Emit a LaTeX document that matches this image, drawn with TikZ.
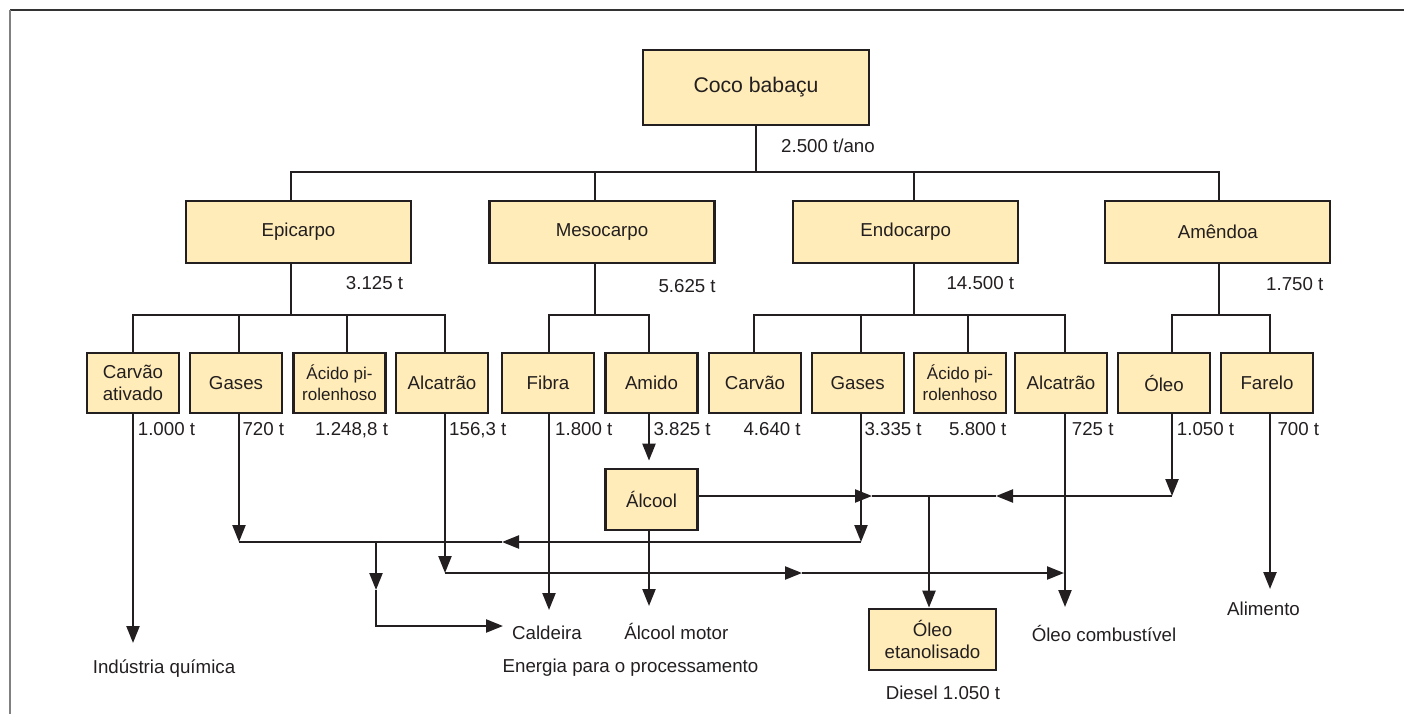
\documentclass[tikz,border=0pt]{standalone}
\usepackage{fontspec}
\setmainfont{Liberation Sans}
\usetikzlibrary{arrows.meta}
\definecolor{inkc}{HTML}{231F20}
\definecolor{boxfill}{HTML}{FFECB8}
\newcommand\FontMain{\fontsize{18.7}{22.6}\selectfont}
\newcommand\FontTitle{\fontsize{21.2}{25}\selectfont}
\newcommand\FontSmall{\fontsize{17}{21}\selectfont}
\begin{document}
\begin{tikzpicture}[x=1pt,y=-1pt,
  box/.style={draw=inkc, fill=boxfill, line width=2.3pt, inner sep=0pt, align=center, text=inkc, font=\FontMain, minimum width=92pt, minimum height=60pt},
  bigbox/.style={box, minimum width=225pt, minimum height=62pt},
  lbl/.style={inner sep=0pt, text=inkc, font=\FontMain, anchor=base},
  lblw/.style={lbl, anchor=base west},
  flow/.style={draw=inkc, line width=2.3pt},
  arr/.style={flow, -{Triangle[length=17pt,width=13pt]}}]
\useasboundingbox (0,0) rectangle (1404,714);
% frame
\draw[draw=black!80, line width=1.3pt] (10,10) -- (1404,10);
\draw[draw=black!50, line width=2pt] (10,10) -- (10,714);

% boxes
\node[box, minimum width=226pt, minimum height=75pt, font=\FontTitle] (coco) at (756,87.5) {Coco babaçu};
\node[bigbox] (epi) at (298.5,232) {Epicarpo};
\node[bigbox] (meso) at (602,232) {Mesocarpo};
\node[bigbox] (endo) at (905.7,232) {Endocarpo};
\node[bigbox] (amen) at (1217.8,232) {Amêndoa};

\node[box] (ca) at (133,383) {Carvão\\ativado};
\node[box] (gasA) at (236,383) {Gases};
\node[box, font=\FontSmall] (aciA) at (339.5,383) {Ácido pi-\\rolenhoso};
\node[box] (alcA) at (442,383) {Alcatrão};
\node[box] (fib) at (548,383) {Fibra};
\node[box] (ami) at (651.5,383) {Amido};
\node[box] (car) at (755,383) {Carvão};
\node[box] (gasB) at (857.7,383) {Gases};
\node[box, font=\FontSmall] (aciB) at (960,383) {Ácido pi-\\rolenhoso};
\node[box] (alcB) at (1061,383) {Alcatrão};
\node[box] (oleo) at (1164,383) {Óleo};
\node[box] (far) at (1267,383) {Farelo};

\node[box, minimum height=61pt] (alcool) at (651.5,499.3) {Álcool};
\node[box, minimum width=127pt, minimum height=61pt] (oet) at (932.5,639.3) {Óleo\\etanolisado};

% column coordinates
\coordinate (Xepi) at (291,0);
\coordinate (Xmeso) at (595,0);
\coordinate (Xendo) at (914,0);
\coordinate (Xamen) at (1219,0);
\coordinate (Xca) at (133,0);
\coordinate (XgasA) at (239,0);
\coordinate (XaciA) at (347,0);
\coordinate (XalcA) at (445,0);
\coordinate (Xfib) at (549,0);
\coordinate (Xami) at (649,0);
\coordinate (Xcar) at (754,0);
\coordinate (XgasB) at (861,0);
\coordinate (XaciB) at (968,0);
\coordinate (XalcB) at (1065,0);
\coordinate (Xole) at (1172,0);
\coordinate (Xfar) at (1270,0);
\coordinate (b1) at (756,172);
\coordinate (b2) at (0,315);

% tree
\draw[flow] (coco.south) -- (coco.south |- b1);
\draw[flow] (epi.north -| Xepi) |- (b1 -| Xamen) -- (amen.north -| Xamen);
\draw[flow] (meso.north -| Xmeso) -- (b1 -| Xmeso);
\draw[flow] (endo.north -| Xendo) -- (b1 -| Xendo);

\draw[flow] (epi.south -| Xepi) -- (b2 -| Xepi);
\draw[flow] (ca.north -| Xca) |- (b2 -| XalcA) -- (alcA.north -| XalcA);
\draw[flow] (gasA.north -| XgasA) -- (b2 -| XgasA);
\draw[flow] (aciA.north -| XaciA) -- (b2 -| XaciA);

\draw[flow] (meso.south -| Xmeso) -- (b2 -| Xmeso);
\draw[flow] (fib.north -| Xfib) |- (b2 -| Xami) -- (ami.north -| Xami);

\draw[flow] (endo.south -| Xendo) -- (b2 -| Xendo);
\draw[flow] (car.north -| Xcar) |- (b2 -| XalcB) -- (alcB.north -| XalcB);
\draw[flow] (gasB.north -| XgasB) -- (b2 -| XgasB);
\draw[flow] (aciB.north -| XaciB) -- (b2 -| XaciB);

\draw[flow] (amen.south -| Xamen) -- (b2 -| Xamen);
\draw[flow] (oleo.north -| Xole) |- (b2 -| Xfar) -- (far.north -| Xfar);

% lower flow coordinates
\coordinate (IQ) at (133,643);
\coordinate (J1) at (239,542);
\coordinate (J2) at (861,542);
\coordinate (J6) at (502,542);
\coordinate (J3) at (376,542);
\coordinate (J3m) at (376,590);
\coordinate (J5) at (503,626);
\coordinate (K1) at (445,573);
\coordinate (K2) at (802,573);
\coordinate (K3) at (1064,573);
\coordinate (OC) at (1065,607);
\coordinate (CAL) at (549,610);
\coordinate (AM) at (649,606);
\coordinate (L1) at (872,496);
\coordinate (L2) at (1172,496);
\coordinate (L3) at (996,496);
\coordinate (L4) at (929,496);
\coordinate (AL) at (1270,589);

\draw[arr] (ca.south -| Xca) -- (IQ);
\draw[arr] (gasA.south -| XgasA) -- (J1);
\draw[arr] (gasB.south -| XgasB) -- (J2);
\draw[arr] (J2) -- (J6);
\draw[flow] (J6) -- (J1);
\draw[arr] (J3) -- (J3m);
\draw[arr] (J3m) |- (J5);
\draw[arr] (alcA.south -| XalcA) -- (K1);
\draw[arr] (K1) -- (K2);
\draw[arr] (K2) -- (K3);
\draw[arr] (alcB.south -| XalcB) -- (OC);
\draw[arr] (fib.south -| Xfib) -- (CAL);
\draw[arr, shorten >=7pt] (ami.south -| Xami) -- (alcool.north -| Xami);
\draw[arr] (alcool.south -| Xami) -- (AM);
\draw[arr] (alcool.east |- L1) -- (L1);
\draw[flow] (L1) -- (L3);
\draw[arr] (oleo.south -| Xole) -- (L2);
\draw[arr] (L2) -- (L3);
\draw[arr] (L4) -- (oet.north -| L4);
\draw[arr] (far.south -| Xfar) -- (AL);

% labels
\node[lblw] (t0) at (781,153) {2.500 t/ano};
\node[lblw] (t1) at (345.7,289.3) {3.125 t};
\node[lblw] (t2) at (658.3,292.7) {5.625 t};
\node[lblw] (t3) at (946.3,289.3) {14.500 t};
\node[lblw] (t4) at (1266,290.7) {1.750 t};

\node[lblw] (v1) at (137.7,435.7) {1.000 t};
\node[lblw] (v2) at (242.3,435.7) {720 t};
\node[lblw] (v3) at (315,435.7) {1.248,8 t};
\node[lblw] (v4) at (449,435.7) {156,3 t};
\node[lblw] (v5) at (555,435.7) {1.800 t};
\node[lblw] (v6) at (653.3,435.7) {3.825 t};
\node[lblw] (v7) at (743.3,435.7) {4.640 t};
\node[lblw] (v8) at (864.3,435.7) {3.335 t};
\node[lblw] (v9) at (949,435.7) {5.800 t};
\node[lblw] (v10) at (1071.7,435.7) {725 t};
\node[lblw] (v11) at (1176.7,435.7) {1.050 t};
\node[lblw] (v12) at (1277.3,435.7) {700 t};

\node[lbl] (d1) at (164,673.5) {Indústria química};
\node[lbl] (d2) at (547,639.3) {Caldeira};
\node[lbl] (d3) at (676.3,639.3) {Álcool motor};
\node[lbl] (d4) at (630.5,672.7) {Energia para o processamento};
\node[lbl] (d5) at (943,699.3) {Diesel 1.050 t};
\node[lbl] (d6) at (1104,641.7) {Óleo combustível};
\node[lbl] (d7) at (1263.5,615.7) {Alimento};
\end{tikzpicture}
\end{document}
